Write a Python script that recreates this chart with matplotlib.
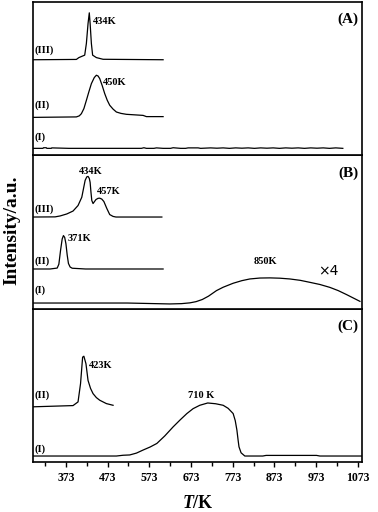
import numpy as np
import matplotlib.pyplot as plt
from matplotlib.ticker import FixedLocator

# --- Dati (T in K, intensita' in unita' arbitrarie, 0-100 per pannello) ---

# Pannello (A)
a1_T = [294, 318, 319, 326, 327, 338, 339, 380, 554, 560, 566, 584, 590, 606, 624, 630,
        648, 660, 666, 690, 696, 720, 735, 750, 765, 780, 795, 810, 825, 840, 855, 870,
        885, 900, 915, 930, 945, 960, 975, 990, 1005, 1020, 1037]
a1_I = [4.6, 4.6, 5.0, 5.0, 4.6, 4.6, 4.9, 4.6, 4.6, 5.0, 4.6, 4.6, 4.9, 4.6, 4.6, 5.0,
        4.6, 4.6, 4.9, 4.9, 4.6, 4.9, 4.7, 4.9, 4.6, 4.9, 4.7, 4.9, 4.6, 4.9, 4.7, 4.9,
        4.6, 4.9, 4.7, 4.9, 4.6, 4.9, 4.7, 4.9, 4.6, 4.9, 4.6]

a2_T = [294, 398, 405, 410, 416, 422, 428, 434, 441, 446, 450, 454, 460, 466, 472, 478,
        486, 494, 505, 518, 558, 566, 606]
a2_I = [24.8, 25.1, 25.8, 27.2, 30.5, 35.9, 41.5, 46.8, 50.8, 52.3, 51.8, 50.1, 45.5,
        40.3, 36.0, 32.7, 30.2, 28.3, 27.4, 26.8, 26.1, 25.3, 25.3]

a3_T = [294, 398, 404, 418, 422, 426, 429, 431, 434, 437, 446, 462, 606]
a3_I = [62.4, 62.6, 63.8, 65.4, 73.0, 86.0, 93.0, 86.0, 73.0, 65.4, 63.8, 62.7, 62.4]

# Pannello (B)
b1_T = [294, 520, 622, 650, 670, 685, 700, 715, 734, 750, 774, 795, 814, 838, 862, 886,
        910, 935, 958, 982, 1006, 1026, 1046, 1062, 1078]
b1_I = [3.7, 3.7, 3.1, 3.3, 3.8, 4.6, 6.0, 8.2, 11.8, 14.0, 16.6, 18.3, 19.4, 20.0,
        20.1, 19.9, 19.4, 18.5, 17.2, 15.8, 13.9, 11.8, 9.2, 7.0, 4.8]

b2_T = [294, 335, 352, 356, 360, 364, 367, 370, 373, 376, 379, 383, 388, 420, 606]
b2_I = [25.9, 25.9, 26.5, 29.0, 37.9, 45.5, 47.7, 46.5, 42.3, 35.0, 29.5, 27.2, 26.4,
        25.9, 25.9]

b3_T = [294, 347, 359, 375, 390, 402, 411, 419, 423, 426, 429, 431, 433, 435, 438, 445,
        450, 454, 459, 464, 471, 478, 486, 493, 603]
b3_I = [59.8, 59.9, 60.5, 61.8, 63.7, 67.3, 72.7, 83.7, 86.0, 86.3, 85.0, 82.4, 76.0,
        70.6, 68.6, 71.2, 72.0, 72.1, 71.5, 69.9, 65.4, 61.4, 60.2, 59.8, 59.8]

# Pannello (C)
c1_T = [294, 494, 510, 526, 542, 558, 575, 591, 610, 630, 647, 663, 678, 694, 713, 732,
        750, 762, 774, 779, 783, 786, 788, 793, 802, 845, 853, 974, 982, 1083]
c1_I = [3.9, 3.9, 4.4, 4.6, 5.8, 7.8, 9.8, 12.1, 17.0, 22.9, 27.5, 31.6, 34.8, 37.0,
        38.5, 38.0, 37.0, 35.0, 31.6, 27.0, 20.8, 14.0, 9.9, 6.0, 3.9, 3.9, 4.3, 4.3,
        3.9, 3.9]

c2_T = [294, 390, 402, 408, 413, 416, 421, 426, 432, 438, 446, 454, 470, 486]
c2_I = [36.0, 36.8, 39.2, 51.1, 68.4, 69.0, 64.1, 53.2, 48.0, 44.6, 42.0, 40.3, 38.1,
        37.0]

tick_major = [373, 473, 573, 673, 773, 873, 973, 1073]


def style_panel(ax):
    ax.set_xlim(294, 1083)
    ax.set_ylim(0, 100)
    ax.set_yticks([])
    for s in ax.spines.values():
        s.set_linewidth(1.2)


def main():
    plt.rcParams['font.family'] = 'Liberation Serif'
    plt.rcParams['font.weight'] = 'bold'
    plt.rcParams['mathtext.fontset'] = 'custom'
    plt.rcParams['mathtext.rm'] = 'Liberation Serif:bold'
    plt.rcParams['mathtext.it'] = 'Liberation Serif:italic:bold'

    fig = plt.figure(figsize=(3.78, 5.12), dpi=100)

    left, width = 33 / 378, 329 / 378
    h = 153.3 / 512
    bottom = 1 - 462 / 512
    axC = fig.add_axes([left, bottom, width, h])
    axB = fig.add_axes([left, bottom + h, width, h])
    axA = fig.add_axes([left, bottom + 2 * h, width, h])

    kw = dict(color='black', lw=0.9)
    fs_lab = 7.5

    # --- (A) ---
    axA.plot(a1_T, a1_I, **kw)
    axA.plot(a2_T, a2_I, **kw)
    axA.plot(a3_T, a3_I, **kw)
    axA.text(298, 67, '(III)', fontsize=fs_lab)
    axA.text(298, 31, '(II)', fontsize=fs_lab)
    axA.text(298, 10.5, '(I)', fontsize=fs_lab)
    axA.text(437, 86, '434K', fontsize=fs_lab)
    axA.text(461, 46, '450K', fontsize=fs_lab)
    axA.text(0.99, 0.93, '(A)', fontsize=11, transform=axA.transAxes, ha='right', va='top')

    # --- (B) ---
    axB.plot(b1_T, b1_I, **kw)
    axB.plot(b2_T, b2_I, **kw)
    axB.plot(b3_T, b3_I, **kw)
    axB.text(298, 63, '(III)', fontsize=fs_lab)
    axB.text(298, 29, '(II)', fontsize=fs_lab)
    axB.text(298, 10.5, '(I)', fontsize=fs_lab)
    axB.text(405, 88, '434K', fontsize=fs_lab)
    axB.text(446, 75, '457K', fontsize=fs_lab)
    axB.text(377, 44, '371K', fontsize=fs_lab)
    axB.text(822, 29, '850K', fontsize=fs_lab)
    axB.text(978, 22, '\u00d74', fontsize=10, family='DejaVu Sans', weight='normal')
    axB.text(0.99, 0.93, '(B)', fontsize=11, transform=axB.transAxes, ha='right', va='top')

    # --- (C) ---
    axC.plot(c1_T, c1_I, **kw)
    axC.plot(c2_T, c2_I, **kw)
    axC.text(298, 42, '(II)', fontsize=fs_lab)
    axC.text(298, 7, '(I)', fontsize=fs_lab)
    axC.text(429, 61, '423K', fontsize=fs_lab)
    axC.text(666, 42, '710 K', fontsize=fs_lab)
    axC.text(0.99, 0.93, '(C)', fontsize=11, transform=axC.transAxes, ha='right', va='top')

    for ax in (axA, axB, axC):
        style_panel(ax)
    for ax in (axA, axB):
        ax.set_xticks([])

    # --- Assi ---
    axC.xaxis.set_major_locator(FixedLocator(tick_major))
    axC.xaxis.set_minor_locator(FixedLocator([t - 50 for t in tick_major]))
    axC.tick_params(axis='x', which='major', direction='out', length=3.5, width=1,
                    pad=4, labelsize=8.5)
    axC.tick_params(axis='x', which='minor', direction='out', length=3, width=1)

    fig.text(197.5 / 378, 1 - 504 / 512, r'$T$/K', fontsize=13, ha='center', va='center')
    fig.text(12 / 378, 1 - 230 / 512, 'Intensity/a.u.', fontsize=14, rotation=90,
             ha='center', va='center')

    fig.savefig('out.png', dpi=100)


if __name__ == "__main__":
    main()
